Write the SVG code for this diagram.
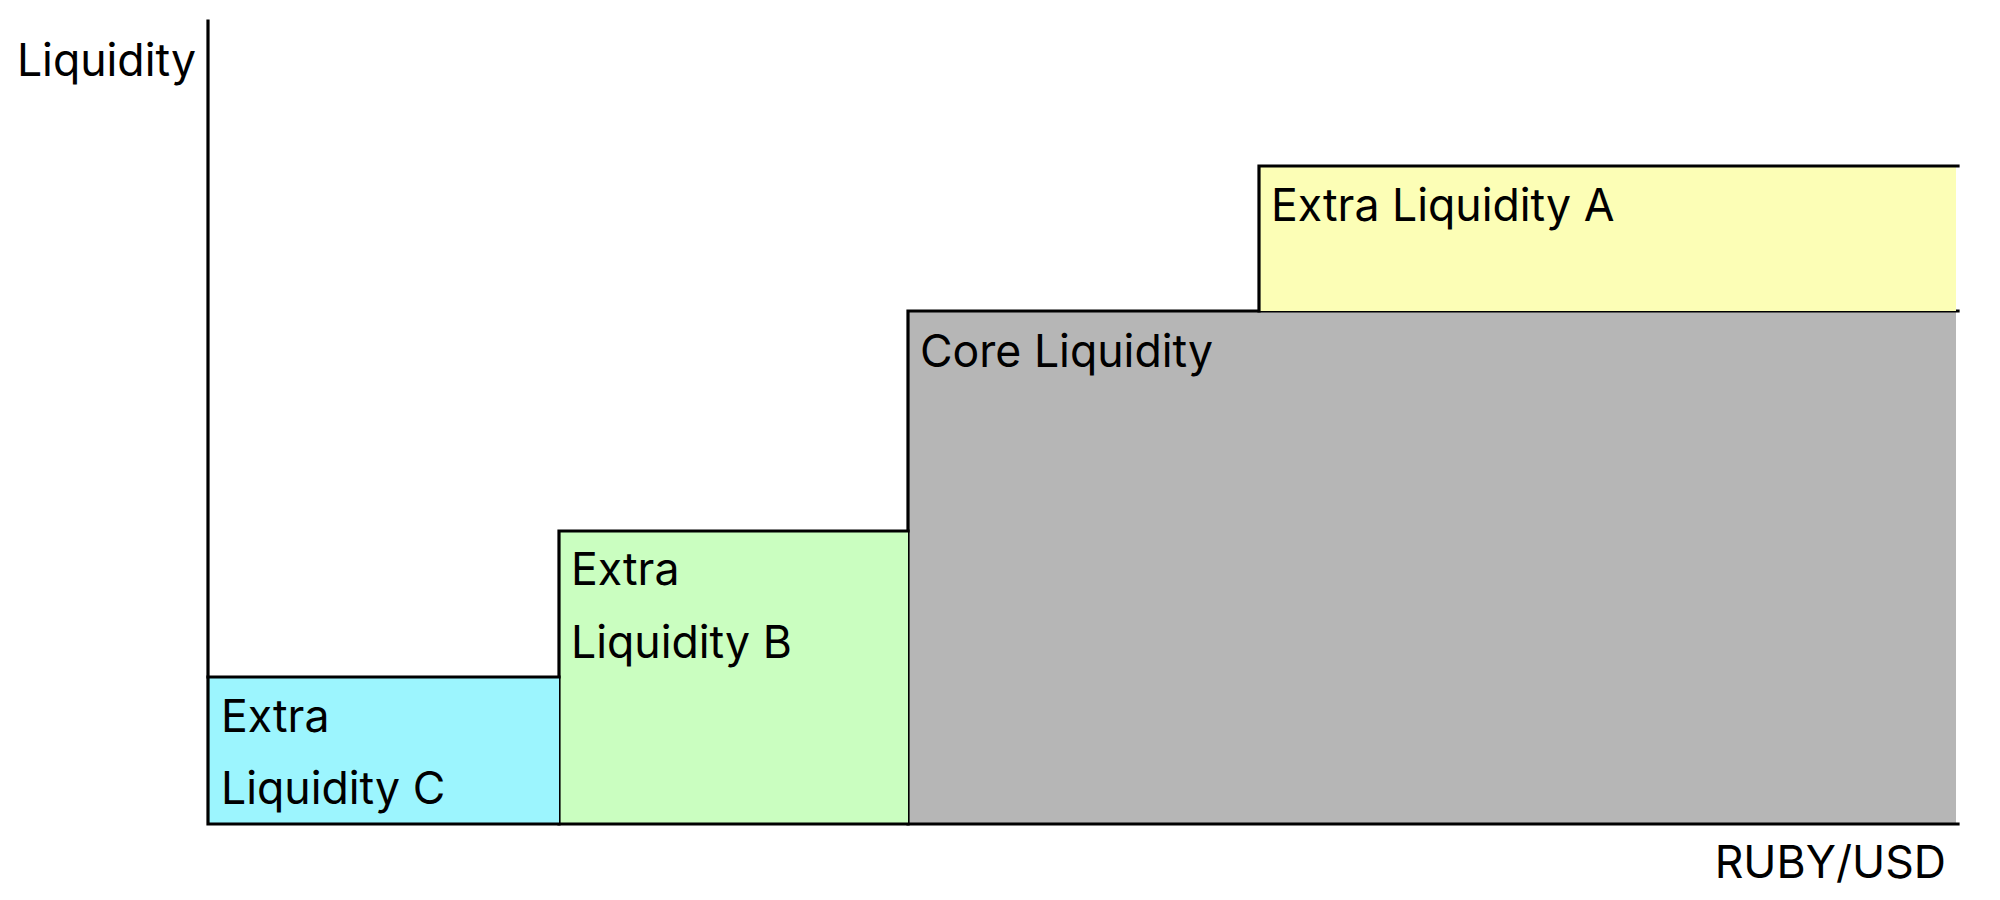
<svg xmlns="http://www.w3.org/2000/svg" width="2000" height="900" viewBox="0 0 2000 900">
<style>
text { font-family: Inter, "Noto Sans", "Liberation Sans", sans-serif; font-size: 44.6px; fill: #000; }
.ln { stroke: #000; stroke-width: 3.2; fill: none; stroke-linecap: square; }
</style>
<rect x="0" y="0" width="2000" height="900" fill="#fff"/>
<g id="core">
  <rect x="908" y="311" width="1048" height="513" fill="#b6b6b6"/>
  <path class="ln" d="M908 824 V311 H1958"/>
  <text x="920" y="367">Core Liquidity</text>
</g>
<g id="extra-a">
  <rect x="1259" y="166" width="697" height="145" fill="#fcfeb6"/>
  <path class="ln" d="M1259 311 V166 H1958"/>
  <text x="1271" y="221">Extra Liquidity A</text>
</g>
<g id="extra-b">
  <rect x="559" y="531" width="349" height="293" fill="#cafec0"/>
  <path class="ln" d="M559 824 V531 H908"/>
  <text x="571" y="585">Extra</text>
  <text x="571" y="658">Liquidity B</text>
</g>
<g id="extra-c">
  <rect x="208" y="677" width="351" height="147" fill="#9cf5fe"/>
  <path class="ln" d="M208 677 H559"/>
  <text x="221" y="732">Extra</text>
  <text x="221" y="804">Liquidity C</text>
</g>
<g id="axes">
  <path class="ln" d="M208 21 V824 H1958"/>
  <text x="196" y="76" text-anchor="end">Liquidity</text>
  <text x="1946" y="878" text-anchor="end">RUBY/USD</text>
</g>
</svg>
